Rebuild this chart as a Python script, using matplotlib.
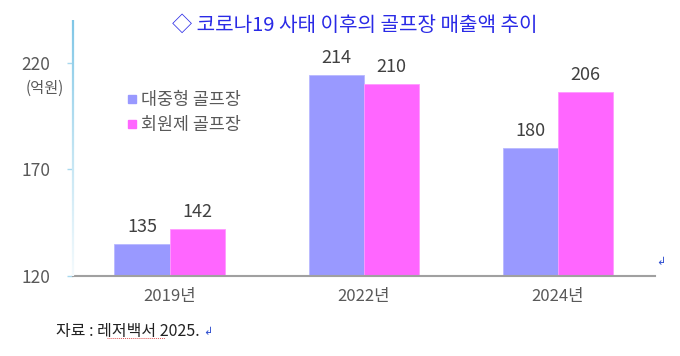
import matplotlib.pyplot as plt
import numpy as np
from matplotlib.collections import LineCollection
from matplotlib.lines import Line2D
from matplotlib.colors import LinearSegmentedColormap

plt.rcParams['font.family'] = ['Noto Sans CJK KR', 'DejaVu Sans']

# data
years = ['2019년', '2022년', '2024년']
public_sales = [135, 214, 180]
member_sales = [142, 210, 206]
series_names = ['대중형 골프장', '회원제 골프장']
y_ticks = [120, 170, 220]

c_public = '#9999FF'
c_member = '#FF66FF'
grey = '#595959'

fig = plt.figure(figsize=(6.8, 3.56), dpi=100)
ax = fig.add_axes([0.1068, 0.225, 0.8565, 0.719])

x = np.arange(len(years))
w = 0.285
b1 = ax.bar(x - w / 2, public_sales, w, color=c_public, edgecolor='#B8B8FF', linewidth=0.6)
b2 = ax.bar(x + w / 2, member_sales, w, color=c_member, edgecolor='#FF99FF', linewidth=0.6)

for bars, vals in [(b1, public_sales), (b2, member_sales)]:
    for bar, v in zip(bars, vals):
        ax.annotate(str(v), (bar.get_x() + bar.get_width() / 2, v),
                    xytext=(0, 6), textcoords='offset points',
                    ha='center', va='bottom', fontsize=13, color='#404040')

ax.set_xlim(-0.5, 2.5)
ax.set_ylim(120, 240)
ax.set_yticks(y_ticks)
ax.set_xticks(x)
ax.set_xticklabels(years)
ax.tick_params(axis='y', length=4, width=1, color='#A8D8EE', labelcolor=grey,
               labelsize=12.5, pad=12)
ax.tick_params(axis='x', length=0, labelcolor=grey, labelsize=12, pad=9)

for s in ['top', 'right', 'left']:
    ax.spines[s].set_visible(False)
ax.spines['bottom'].set_color('#A0A0A0')
ax.spines['bottom'].set_linewidth(1.5)

# gradient left axis line
yy = np.linspace(0, 1, 120)
segs = [[(0, yy[i]), (0, yy[i + 1])] for i in range(len(yy) - 1)]
cmap = LinearSegmentedColormap.from_list('ax', ['#F4FAFD', '#BFE3F2', '#7FC6E6'])
lc = LineCollection(segs, colors=cmap(yy[:-1]), linewidths=1.6,
                    transform=ax.transAxes, clip_on=False, zorder=3)
ax.add_collection(lc)

fig.text(0.066, 0.752, '(억원)', ha='center', va='center', fontsize=11, color=grey)

handles = [Line2D([], [], marker='s', linestyle='none', markersize=6, color=c)
           for c in (c_public, c_member)]
ax.legend(handles, series_names, loc='upper left', bbox_to_anchor=(0.186, 0.745),
          bbox_transform=fig.transFigure, frameon=False, fontsize=12.5,
          labelcolor=grey, handlelength=0.6, handletextpad=0.25,
          labelspacing=0.4, borderpad=0, borderaxespad=0)

fig.text(0.522, 0.928, '◇ 코로나19 사태 이후의 골프장 매출액 추이', ha='center', va='center',
         fontsize=14.5, color='#2A2AE6')

fig.text(0.965, 0.265, '↲', ha='left', va='center', fontsize=8, color='#3050D0')
fig.text(0.082, 0.07, '자료 : 레저백서 2025.', ha='left', va='center',
         fontsize=11.5, color='#222222')
fig.text(0.298, 0.067, '↲', ha='left', va='center', fontsize=8, color='#3050D0')
fig.add_artist(Line2D([0.157, 0.242], [0.05, 0.05], transform=fig.transFigure,
                      color='#E05050', linewidth=0.7, linestyle=(0, (1, 1))))

fig.savefig('out.png', dpi=100)
